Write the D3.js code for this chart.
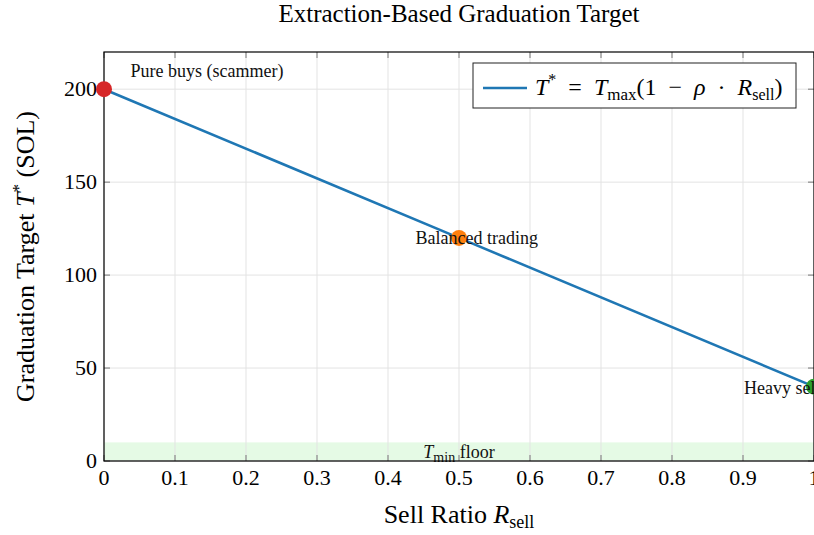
<!DOCTYPE html>
<html>
<head>
<meta charset="utf-8">
<title>Extraction-Based Graduation Target</title>
<script src="https://cdnjs.cloudflare.com/ajax/libs/d3/7.8.5/d3.min.js"></script>
<style>
  body { margin: 0; background: white; }
  svg { font-family: "Liberation Serif", "DejaVu Serif", serif; }
</style>
</head>
<body>
<div id="chart"></div>
<script>
// line T* vs sell ratio
const lineX = [0, 0.5, 1];
const lineY = [200, 120, 40];

// highlighted points
const pointX = [0, 0.5, 1];
const pointY = [200, 120, 40];
const pointColors = ["#d62728", "#ff7f0e", "#2ca02c"];
const pointLabels = ["Pure buys (scammer)", "Balanced trading", "Heavy sellers"];
const labelX = [0.145, 0.525, 0.97];
const labelY = [210, 120, 39];

const xTicks = [0, 0.1, 0.2, 0.3, 0.4, 0.5, 0.6, 0.7, 0.8, 0.9, 1];
const yTicks = [0, 50, 100, 150, 200];
const floorValue = 10;

const W = 814, H = 535;
const margin = {top: 52, right: 0, bottom: 74, left: 104};
const width = W - margin.left - margin.right;
const height = H - margin.top - margin.bottom;

const svg = d3.select("#chart").append("svg")
  .attr("width", W).attr("height", H);

const g = svg.append("g")
  .attr("transform", `translate(${margin.left},${margin.top})`);

const x = d3.scaleLinear().domain([0, 1]).range([0, width]);
const y = d3.scaleLinear().domain([0, 220]).range([height, 0]);

// floor band
g.append("rect")
  .attr("x", x(0)).attr("y", y(floorValue))
  .attr("width", x(1) - x(0)).attr("height", y(0) - y(floorValue))
  .attr("fill", "#e5fae5");

// grid
g.selectAll(".vgrid").data(xTicks).enter().append("line")
  .attr("x1", d => x(d)).attr("x2", d => x(d))
  .attr("y1", 0).attr("y2", height)
  .attr("stroke", "#e3e3e3").attr("stroke-width", 1);
g.selectAll(".hgrid").data(yTicks).enter().append("line")
  .attr("x1", 0).attr("x2", width)
  .attr("y1", d => y(d)).attr("y2", d => y(d))
  .attr("stroke", "#e3e3e3").attr("stroke-width", 1);

// floor label
const fl = g.append("text")
  .attr("x", x(0.5)).attr("y", y(floorValue / 2) + 6)
  .attr("text-anchor", "middle").attr("font-size", 18).attr("fill", "#111");
fl.append("tspan").attr("font-style", "italic").text("T");
fl.append("tspan").attr("font-size", 14).attr("dy", 4).text("min");
fl.append("tspan").attr("dy", -4).text(" floor");

// inward ticks (pgfplots style)
const tl = 6;
xTicks.forEach(t => {
  g.append("line").attr("x1", x(t)).attr("x2", x(t))
    .attr("y1", height).attr("y2", height - tl).attr("stroke", "#777");
  g.append("line").attr("x1", x(t)).attr("x2", x(t))
    .attr("y1", 0).attr("y2", tl).attr("stroke", "#777");
});
yTicks.forEach(t => {
  g.append("line").attr("x1", 0).attr("x2", tl)
    .attr("y1", y(t)).attr("y2", y(t)).attr("stroke", "#777");
  g.append("line").attr("x1", width).attr("x2", width - tl)
    .attr("y1", y(t)).attr("y2", y(t)).attr("stroke", "#777");
});

// tick labels
g.selectAll(".xt").data(xTicks).enter().append("text")
  .attr("x", d => x(d)).attr("y", height + 24)
  .attr("text-anchor", "middle").attr("font-size", 22)
  .text(d => d3.format("")(d));
g.selectAll(".yt").data(yTicks).enter().append("text")
  .attr("x", -7).attr("y", d => y(d) + 7)
  .attr("text-anchor", "end").attr("font-size", 22)
  .text(d => d);

// frame
g.append("rect").attr("x", 0).attr("y", 0)
  .attr("width", width).attr("height", height)
  .attr("fill", "none").attr("stroke", "#000").attr("stroke-width", 1.2);

// main line
const line = d3.line().x((d, i) => x(lineX[i])).y(d => y(d));
g.append("path").datum(lineY)
  .attr("d", line).attr("fill", "none")
  .attr("stroke", "#1f77b4").attr("stroke-width", 2.6);

// points
g.selectAll(".pt").data(pointX).enter().append("circle")
  .attr("cx", d => x(d)).attr("cy", (d, i) => y(pointY[i]))
  .attr("r", 8).attr("fill", (d, i) => pointColors[i]);

// point labels
g.selectAll(".pl").data(pointLabels).enter().append("text")
  .attr("x", (d, i) => x(labelX[i])).attr("y", (d, i) => y(labelY[i]) + 6)
  .attr("text-anchor", "middle").attr("font-size", 18).attr("fill", "#111")
  .text(d => d);

// legend
const lg = g.append("g").attr("transform", `translate(${369},${11})`);
lg.append("rect").attr("width", 323).attr("height", 45)
  .attr("fill", "white").attr("stroke", "#222").attr("stroke-width", 1);
lg.append("line").attr("x1", 10).attr("x2", 54).attr("y1", 25).attr("y2", 25)
  .attr("stroke", "#1f77b4").attr("stroke-width", 2.6);
const lt = lg.append("text").attr("x", 62).attr("y", 32).attr("font-size", 24);
lt.append("tspan").attr("font-style", "italic").text("T");
lt.append("tspan").attr("font-size", 16).attr("dy", -10).text("*");
lt.append("tspan").attr("dy", 10).text("\u2002=\u2002");
lt.append("tspan").attr("font-style", "italic").text("T");
lt.append("tspan").attr("font-size", 17).attr("dy", 5).text("max");
lt.append("tspan").attr("dy", -5).text("(1\u2002\u2212\u2002");
lt.append("tspan").attr("font-style", "italic").text("\u03c1");
lt.append("tspan").text("\u2002\u00b7\u2002");
lt.append("tspan").attr("font-style", "italic").text("R");
lt.append("tspan").attr("font-size", 16).attr("dy", 5).text("sell");
lt.append("tspan").attr("dy", -5).text(")");

// title
svg.append("text").attr("x", margin.left + width / 2).attr("y", 22)
  .attr("text-anchor", "middle").attr("font-size", 25)
  .text("Extraction-Based Graduation Target");

// x label
const xl = svg.append("text").attr("x", margin.left + width / 2).attr("y", 523)
  .attr("text-anchor", "middle").attr("font-size", 26);
xl.append("tspan").text("Sell Ratio ");
xl.append("tspan").attr("font-style", "italic").text("R");
xl.append("tspan").attr("font-size", 18).attr("dy", 5).text("sell");

// y label
const yl = svg.append("text")
  .attr("transform", `translate(34,${margin.top + height / 2}) rotate(-90)`)
  .attr("text-anchor", "middle").attr("font-size", 26);
yl.append("tspan").text("Graduation Target ");
yl.append("tspan").attr("font-style", "italic").text("T");
yl.append("tspan").attr("font-size", 17).attr("dy", -10).text("*");
yl.append("tspan").attr("dy", 10).text(" (SOL)");
</script>
</body>
</html>
